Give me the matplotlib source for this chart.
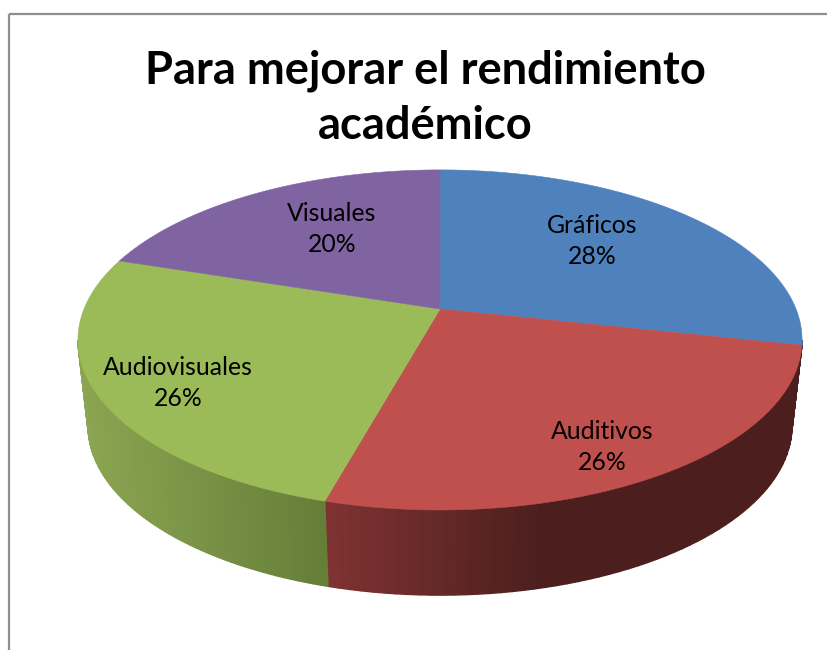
import numpy as np
import matplotlib.pyplot as plt
from matplotlib.patches import Polygon, Rectangle
from matplotlib.colors import to_rgb

title = "Para mejorar el rendimiento\nacadémico"
categories = ["Gráficos", "Auditivos", "Audiovisuales", "Visuales"]
# labels are rounded, the slices show a bit more than the whole numbers
values = [28.4, 25.9, 25.7, 20.0]
colors = ["#4f81bd", "#c0504d", "#9bbb59", "#8064a2"]
side_light = ["#4f81bd", "#7f3332", "#8ca552", "#8064a2"]
side_dark = ["#2f4d71", "#4c1f1e", "#647e38", "#4d3c61"]
label_pos = [(592, 241), (602, 447), (178, 383), (332, 229)]

# pixel space of the picture, the pie is a tilted disc
CX, APEX_Y = 440, 309
A, B, K = 356, 164.4, 0.182
VIS_START, VIS_END = 100.5, 259.5


def top_rim(deg):
    t = np.radians(deg)
    u, v = np.sin(t), np.cos(t)
    d = 1 + K * v
    return CX + A * u / d, APEX_Y - B * v / d


def low_rim(deg):
    x, y = top_rim(deg)
    return CX + (x - CX) * 0.972, 426 + (y - 340) * 0.995


def main():
    fig = plt.figure(figsize=(8.28, 6.5), dpi=100)
    ax = fig.add_axes([0, 0, 1, 1])
    ax.set_xlim(0, 828)
    ax.set_ylim(650, 0)
    ax.axis("off")

    ax.add_patch(Rectangle((9.5, 13.5), 840, 660, fill=False, ec="#8e8e8e", lw=1.6))

    edges = np.cumsum([0] + values) / sum(values) * 360

    # side wall first, cut in thin strips so it shades from left to right
    for i in range(len(values)):
        a0 = max(edges[i], VIS_START)
        a1 = min(edges[i + 1], VIS_END)
        if a1 <= a0:
            continue
        steps = np.linspace(a0, a1, 60)
        x_all = top_rim(steps)[0]
        lo, hi = x_all.min(), x_all.max()
        c_light = np.array(to_rgb(side_light[i]))
        c_dark = np.array(to_rgb(side_dark[i]))
        for s0, s1 in zip(steps[:-1], steps[1:]):
            xm = top_rim((s0 + s1) / 2)[0]
            f = (xm - lo) / (hi - lo)
            if i == 1:
                # red goes dark quickly and then stays flat
                f = min(f / 0.45, 1)
            c = c_light + (c_dark - c_light) * f
            pts = [top_rim(s0), top_rim(s1), low_rim(s1), low_rim(s0)]
            ax.add_patch(Polygon(pts, fc=c, ec=c, lw=1.0))

    # top of the pie
    for i in range(len(values)):
        steps = np.linspace(edges[i], edges[i + 1], 200)
        x, y = top_rim(steps)
        pts = np.column_stack([np.r_[CX, x], np.r_[APEX_Y, y]])
        ax.add_patch(Polygon(pts, fc=colors[i], ec=colors[i], lw=0.4))

    for name, val, (lx, ly) in zip(categories, values, label_pos):
        ax.text(lx, ly, f"{name}\n{val:.0f}%", ha="center", va="center", color="black",
                fontsize=17.8, family="Lato", linespacing=1.45)

    ax.text(425, 98, title, ha="center", va="center", color="black", fontsize=32.6,
            family="Lato", fontweight="bold", linespacing=1.38)

    fig.savefig("out.png", dpi=100)


if __name__ == "__main__":
    main()
